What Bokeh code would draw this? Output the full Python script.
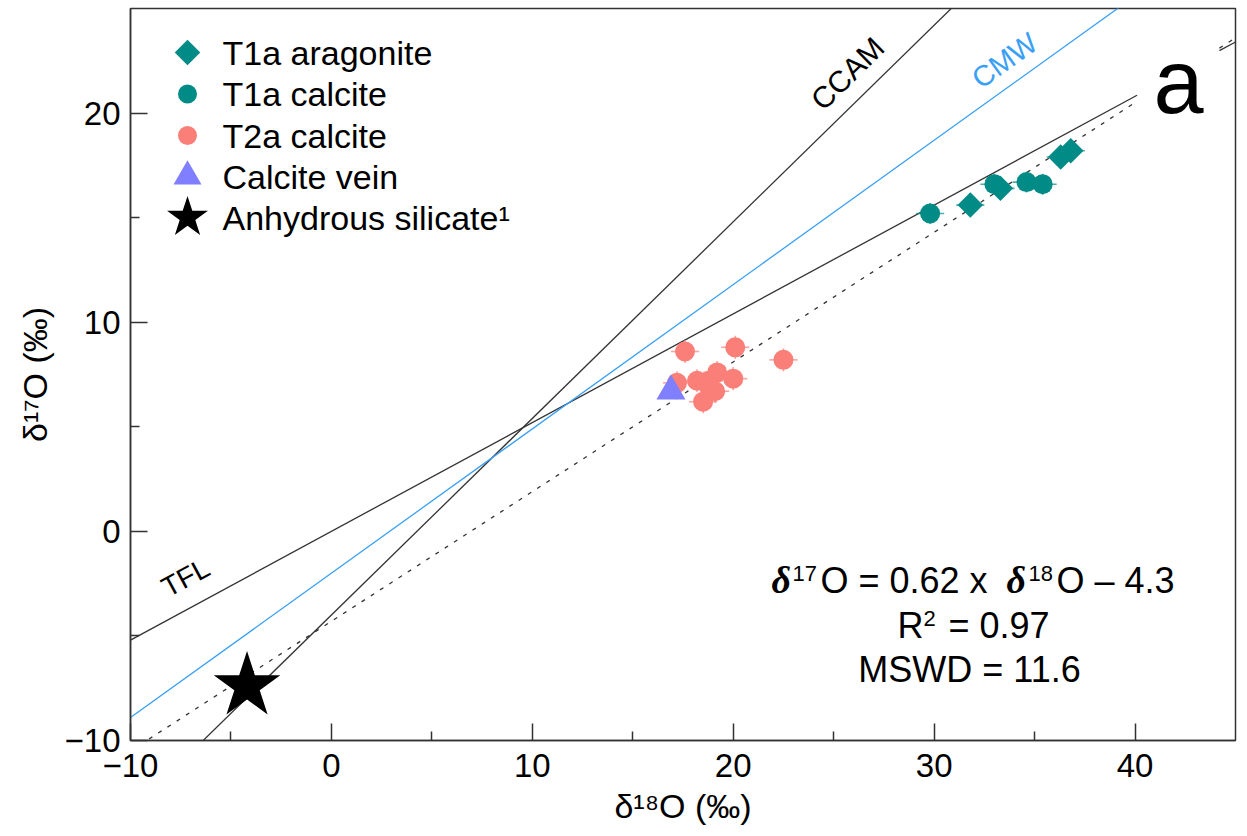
import numpy as np
from bokeh.plotting import figure
from bokeh.models import FixedTicker, Range1d, CustomJSTickFormatter
from bokeh.core.properties import value
from bokeh.embed import file_html
from bokeh.resources import INLINE

# ---------------- data ----------------
t1a_aragonite_d18O = [31.8, 33.3, 36.3, 36.8]
t1a_aragonite_d17O = [15.6, 16.4, 17.9, 18.2]
t1a_aragonite_err18 = [0.7, 0.7, 0.7, 0.7]
t1a_aragonite_err17 = [0.5, 0.5, 0.5, 0.5]

t1a_calcite_d18O = [29.8, 33.0, 34.6, 35.4]
t1a_calcite_d17O = [15.2, 16.6, 16.7, 16.6]
t1a_calcite_err18 = [0.7, 0.7, 0.7, 0.7]
t1a_calcite_err17 = [0.5, 0.5, 0.5, 0.5]

t2a_calcite_d18O = [17.6, 20.1, 22.5, 17.2, 18.2, 18.8, 19.2, 20.0, 19.1, 18.5, 18.8]
t2a_calcite_d17O = [8.6, 8.8, 8.2, 7.1, 7.2, 7.2, 7.6, 7.3, 6.7, 6.2, 6.9]
t2a_calcite_err18 = [0.7, 0.7, 0.7, 0.7, 0.7, 0.7, 0.7, 0.7, 0.7, 0.7, 0.7]
t2a_calcite_err17 = [0.55, 0.55, 0.55, 0.55, 0.55, 0.55, 0.55, 0.55, 0.55, 0.55, 0.55]

vein_d18O = [16.9]
vein_d17O = [6.7]

silicate_d18O = [-4.2]
silicate_d17O = [-7.4]

# reference lines: (slope, intercept)
tfl_line = (0.52, 0.0)
ccam_line = (0.94, -4.0)
cmw_line = (0.69, -2.0)
fit_line = (0.62, -4.3)

x_major_ticks = [-10, 0, 10, 20, 30, 40]
x_minor_ticks = [-5, 5, 15, 25, 35]
y_major_ticks = [-10, 0, 10, 20]
y_minor_ticks = [-5, 5, 15]

legend_labels = ["T1a aragonite", "T1a calcite", "T2a calcite", "Calcite vein", "Anhydrous silicate\u00b9"]

# ---------------- styling ----------------
TEAL = "#008b86"
SALMON = "#fa7f78"
VIOLET = "#7f7fff"
BLUE = "#3aa0f5"
DARK = "#333333"
FONT = "Liberation Sans"

W, H = 1247, 836
L, R, T, B = 130, 1235, 8, 740
X0, X1, Y0, Y1 = -10, 45, -10, 25


def px2x(px):
    return X0 + (px - L) * (X1 - X0) / (R - L)


def py2y(py):
    return Y1 - (py - T) * (Y1 - Y0) / (B - T)


p = figure(width=W, height=H, x_range=Range1d(X0, X1), y_range=Range1d(Y0, Y1),
           output_backend="svg", toolbar_location=None,
           min_border_left=L, min_border_right=W - R, min_border_top=T, min_border_bottom=H - B)
p.grid.visible = False
p.outline_line_color = DARK
p.outline_line_width = 1.5
p.background_fill_color = "white"
p.border_fill_color = "white"

fmt = CustomJSTickFormatter(code="return tick < 0 ? '\u2212' + Math.abs(tick) : String(tick);")
for ax, maj, mnr in ((p.xaxis[0], x_major_ticks, x_minor_ticks), (p.yaxis[0], y_major_ticks, y_minor_ticks)):
    ax.ticker = FixedTicker(ticks=maj, minor_ticks=mnr)
    ax.formatter = fmt
    ax.axis_line_color = DARK
    ax.axis_line_width = 1.5
    ax.major_tick_in = 17
    ax.major_tick_out = 0
    ax.minor_tick_in = 9
    ax.minor_tick_out = 0
    ax.major_tick_line_color = DARK
    ax.major_tick_line_width = 1.5
    ax.minor_tick_line_color = DARK
    ax.minor_tick_line_width = 1.5
    ax.major_label_text_font = FONT
    ax.major_label_text_font_size = "33px"
    ax.major_label_text_color = "black"
    ax.axis_label_text_font = FONT
    ax.axis_label_text_font_size = "34px"
    ax.axis_label_text_font_style = "normal"
    ax.axis_label_text_color = "black"

p.xaxis.axis_label = "\u03b4\u00b9\u2078O (\u2030)"
p.yaxis.axis_label = "\u03b4\u00b9\u2077O (\u2030)"
p.xaxis.major_label_standoff = 13
p.yaxis.major_label_standoff = 10
p.xaxis.axis_label_standoff = 7
p.yaxis.axis_label_standoff = 8

# ---------------- reference lines ----------------
def line_pts(coef, xa, xb):
    xs = np.array([xa, xb], dtype=float)
    return xs, coef[0] * xs + coef[1]

xs, ys = line_pts(tfl_line, -10, 40.1)
p.line(xs, ys, line_color=DARK, line_width=1.3)
xs, ys = line_pts(tfl_line, 44.2, 45)
p.line(xs, ys, line_color=DARK, line_width=1.3)
xs, ys = line_pts(ccam_line, -10, 45)
p.line(xs, ys, line_color=DARK, line_width=1.3)
xs, ys = line_pts(cmw_line, -10, 45)
p.line(xs, ys, line_color=BLUE, line_width=1.3)
xs, ys = line_pts(fit_line, -10, 40.1)
p.line(xs, ys, line_color=DARK, line_width=1.3, line_dash="4 7")
xs, ys = line_pts(fit_line, 44.2, 45)
p.line(xs, ys, line_color=DARK, line_width=1.3, line_dash="4 7")

# ---------------- error bars ----------------
def errbars(x, y, ex, ey, color):
    x = np.array(x); y = np.array(y); ex = np.array(ex); ey = np.array(ey)
    p.segment(x0=x - ex, x1=x + ex, y0=y, y1=y, line_color=color, line_width=1.6, line_alpha=0.7)
    p.segment(x0=x, x1=x, y0=y - ey, y1=y + ey, line_color=color, line_width=1.6, line_alpha=0.7)

errbars(t2a_calcite_d18O, t2a_calcite_d17O, t2a_calcite_err18, t2a_calcite_err17, SALMON)
errbars(t1a_calcite_d18O, t1a_calcite_d17O, t1a_calcite_err18, t1a_calcite_err17, TEAL)
errbars(t1a_aragonite_d18O, t1a_aragonite_d17O, t1a_aragonite_err18, t1a_aragonite_err17, TEAL)

# ---------------- markers ----------------
p.scatter(t2a_calcite_d18O, t2a_calcite_d17O, marker="circle", size=20, fill_color=SALMON, line_color=None)
p.scatter(vein_d18O, vein_d17O, marker="triangle", size=29, fill_color=VIOLET, line_color=None)
p.scatter(t1a_calcite_d18O, t1a_calcite_d17O, marker="circle", size=20, fill_color=TEAL, line_color=None)
p.scatter(t1a_aragonite_d18O, t1a_aragonite_d17O, marker="square", size=18, angle=np.pi / 4,
          fill_color=TEAL, line_color=None)
p.scatter(silicate_d18O, silicate_d17O, marker="star", size=70, fill_color="black", line_color=None)

# ---------------- line labels ----------------
p.text(x=[px2x(185)], y=[py2y(577)], text=["TFL"], angle=np.arctan(0.52 * 1.041),
       text_font=value(FONT), text_font_size="28px", text_align="center", text_baseline="middle",
       text_color="black")
p.text(x=[px2x(847)], y=[py2y(73)], text=["CCAM"], angle=np.arctan(0.94 * 1.041),
       text_font=value(FONT), text_font_size="30px", text_align="center", text_baseline="middle",
       text_color="black")
p.text(x=[px2x(1004)], y=[py2y(60)], text=["CMW"], angle=np.arctan(0.69 * 1.041),
       text_font=value(FONT), text_font_size="29px", text_align="center", text_baseline="middle",
       text_color=BLUE)


# ---------------- free texts (positioned by baseline in pixels) ----------------
def piece(px, base_py, s, size, font=FONT, style="normal", align="left", color="black"):
    mid = base_py - 0.35 * size
    p.text(x=[px2x(px)], y=[py2y(mid)], text=[s], text_font=value(font), text_font_size=f"{size}px",
           text_font_style=style, text_align=align, text_baseline="middle", text_color=color)

# panel letter
piece(1153, 113, "a", 90)

# regression annotation
piece(771, 593, "\u03b4", 38, font="Liberation Serif", style="bold italic")
piece(792, 581, "17", 22)
piece(820, 593, "O = 0.62 x ", 36)
piece(1006, 593, "\u03b4", 38, font="Liberation Serif", style="bold italic")
piece(1028, 581, "18", 22)
piece(1056, 593, "O \u2013 4.3", 36)
piece(897, 638, "R", 36)
piece(923, 626, "2", 22)
piece(948, 638, "= 0.97", 36)
piece(969, 682, "MSWD = 11.6", 36, align="center")

# ---------------- legend (drawn manually) ----------------
leg_py = [52, 93.5, 135, 176, 217]
lx = px2x(187)
p.scatter([lx], [py2y(leg_py[0])], marker="square", size=18, angle=np.pi / 4, fill_color=TEAL, line_color=None)
p.scatter([lx], [py2y(leg_py[1])], marker="circle", size=19, fill_color=TEAL, line_color=None)
p.scatter([lx], [py2y(leg_py[2])], marker="circle", size=19, fill_color=SALMON, line_color=None)
p.scatter([lx], [py2y(leg_py[3])], marker="triangle", size=28, fill_color=VIOLET, line_color=None)
p.scatter([lx], [py2y(leg_py[4])], marker="star", size=43, fill_color="black", line_color=None)
for lbl, ry in zip(legend_labels, leg_py):
    piece(222, ry + 12, lbl, 34)

open("out.html", "w").write(file_html(p, INLINE))
